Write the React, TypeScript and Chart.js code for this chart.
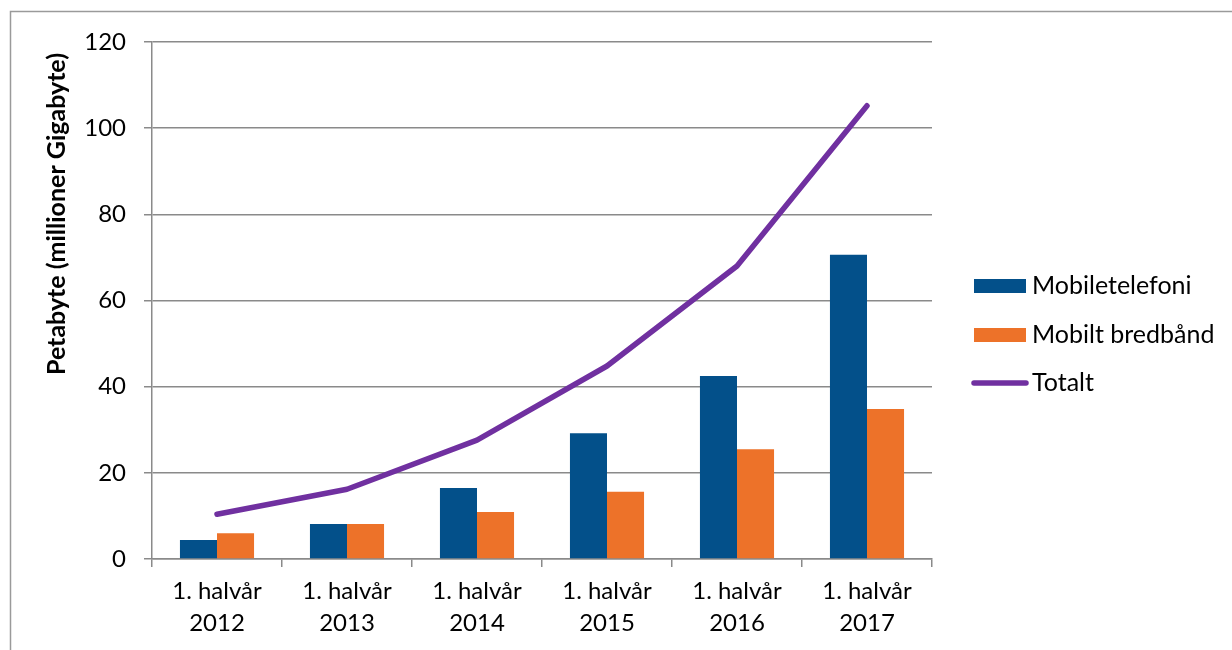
import React, { useEffect, useRef } from "react";
import { Chart, registerables } from "chart.js";

Chart.register(...registerables);

const categories: string[][] = [
  ["1. halvår", "2012"],
  ["1. halvår", "2013"],
  ["1. halvår", "2014"],
  ["1. halvår", "2015"],
  ["1. halvår", "2016"],
  ["1. halvår", "2017"],
];
const mobiletelefoni: number[] = [4.4, 8.1, 16.5, 29.2, 42.5, 70.6];
const mobiltBredband: number[] = [6.0, 8.1, 10.9, 15.6, 25.5, 34.8];
const totalt: number[] = [10.4, 16.2, 27.6, 44.8, 68.0, 105.2];
const yTicks: number[] = [0, 20, 40, 60, 80, 100, 120];
const yTitle = "Petabyte (millioner Gigabyte)";

const BLUE = "#03508A";
const ORANGE = "#ED7229";
const PURPLE = "#7030A0";
const GRID = "#8a8a8a";
const FONT = "Lato";

const decorPlugin = {
  id: "decor",
  beforeDraw(chart: any) {
    const ctx = chart.ctx;
    ctx.save();
    ctx.fillStyle = "#ffffff";
    ctx.fillRect(0, 0, chart.width, chart.height);
    ctx.strokeStyle = "#9a9a9a";
    ctx.lineWidth = 1.5;
    ctx.strokeRect(10.5, 11.5, chart.width + 20, chart.height + 20);
    ctx.restore();
  },
  afterDraw(chart: any) {
    const ctx = chart.ctx;
    ctx.save();
    // y-axis title
    ctx.translate(57, 214);
    ctx.rotate(-Math.PI / 2);
    ctx.font = `bold 25px ${FONT}`;
    ctx.fillStyle = "#000";
    ctx.textAlign = "center";
    ctx.textBaseline = "middle";
    ctx.fillText(yTitle, 0, 0);
    ctx.restore();

    // legend
    ctx.save();
    const items = chart.data.datasets;
    const rows = [286, 335, 383];
    [0, 1, 2].forEach((i, k) => {
      const ds = items[i];
      const y = rows[k];
      if (ds.type === "line") {
        ctx.strokeStyle = ds.borderColor;
        ctx.lineWidth = 5.5;
        ctx.lineCap = "round";
        ctx.beginPath();
        ctx.moveTo(974, y);
        ctx.lineTo(1026, y);
        ctx.stroke();
      } else {
        ctx.fillStyle = ds.backgroundColor;
        ctx.fillRect(974, y - 7, 52, 14);
      }
      ctx.fillStyle = "#000";
      ctx.font = `25px ${FONT}`;
      ctx.textAlign = "left";
      ctx.textBaseline = "middle";
      ctx.fillText(ds.label, 1032, y);
    });
    ctx.restore();
  },
};

export default function App() {
  const ref = useRef<HTMLCanvasElement | null>(null);
  useEffect(() => {
    document.body.style.margin = "0";
    if (!ref.current) return;
    const chart = new Chart(ref.current, {
      type: "bar",
      data: {
        labels: categories,
        datasets: [
          {
            type: "bar",
            label: "Mobiletelefoni",
            data: mobiletelefoni,
            backgroundColor: BLUE,
            order: 1,
            barPercentage: 1,
            categoryPercentage: 0.57,
          },
          {
            type: "bar",
            label: "Mobilt bredbånd",
            data: mobiltBredband,
            backgroundColor: ORANGE,
            order: 1,
            barPercentage: 1,
            categoryPercentage: 0.57,
          },
          {
            type: "line",
            label: "Totalt",
            data: totalt,
            borderColor: PURPLE,
            backgroundColor: PURPLE,
            borderWidth: 5.5,
            pointRadius: 0,
            tension: 0,
            borderCapStyle: "round",
            borderJoinStyle: "round",
            order: 0,
          } as any,
        ],
      },
      options: {
        responsive: false,
        animation: false,
        layout: { padding: { top: 42, right: 300, left: 0, bottom: 0 } },
        plugins: {
          legend: { display: false },
          tooltip: { enabled: false },
          title: { display: false },
        },
        scales: {
          x: {
            offset: true,
            grid: {
              offset: true,
              drawOnChartArea: false,
              drawTicks: true,
              tickLength: 8,
              color: GRID,
              lineWidth: 1.5,
            },
            border: { color: GRID, width: 1.5 },
            ticks: {
              color: "#000",
              padding: 8,
              maxRotation: 0,
              autoSkip: false,
              font: { family: FONT, size: 24, lineHeight: 1.33 },
            },
            afterFit(scale: any) {
              scale.height = 91;
            },
          },
          y: {
            min: 0,
            max: 120,
            afterBuildTicks(scale: any) {
              scale.ticks = yTicks.map((v) => ({ value: v }));
            },
            grid: {
              color: GRID,
              lineWidth: 1.5,
              tickLength: 8,
              drawTicks: true,
            },
            border: { color: GRID, width: 1.5 },
            ticks: {
              color: "#000",
              padding: 18,
              font: { family: FONT, size: 24 },
            },
            afterFit(scale: any) {
              scale.width = 152;
            },
          },
        },
      },
      plugins: [decorPlugin],
    });
    return () => chart.destroy();
  }, []);
  return <canvas ref={ref} width={1232} height={650} style={{ display: "block" }} />;
}
